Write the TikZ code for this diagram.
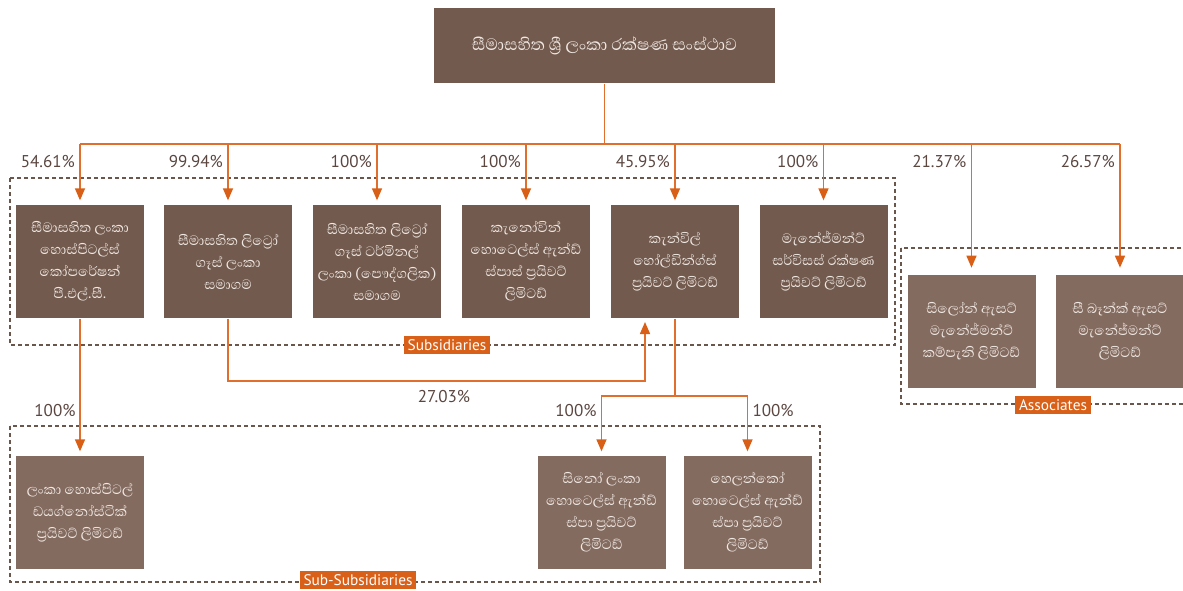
\documentclass[tikz,border=0pt]{standalone}
\usepackage{fontspec}
\setmainfont{PT Sans}
\newfontfamily\sinhalafont[Script=Sinhala]{Abhaya Libre}
\usetikzlibrary{arrows.meta}

\definecolor{boxdark}{RGB}{114,90,78}
\definecolor{boxlight}{RGB}{132,107,96}
\definecolor{boxtext}{RGB}{240,232,226}
\definecolor{linkorange}{RGB}{224,110,44}
\definecolor{tiporange}{RGB}{217,95,22}
\definecolor{tagorange}{RGB}{217,96,24}
\definecolor{framebrown}{RGB}{107,86,75}
\definecolor{pctbrown}{RGB}{91,70,64}

\tikzset{every picture/.style={line width=0.75pt}}
\tikzset{
  subbox/.style={fill=boxdark, text=boxtext, minimum width=96pt, minimum height=85pt, inner sep=0pt, align=center, font=\sinhalafont\fontsize{13}{16.5}\selectfont},
  lightbox/.style={subbox, fill=boxlight},
  link/.style={draw=linkorange, line width=1.1pt},
  linkarrow/.style={link, -{Triangle[length=9pt,width=7.5pt,color=tiporange]}, shorten >=3pt},
  groupframe/.style={draw=framebrown, dash pattern=on 3pt off 2.25pt, line width=0.9pt},
  grouptag/.style={fill=tagorange, text=white, font=\fontsize{11.5}{13}\selectfont, inner xsep=3pt, inner ysep=2.5pt},
  pct/.style={text=pctbrown, font=\fontsize{12.8}{15}\selectfont, inner sep=0pt}
}

\begin{document}
\begin{tikzpicture}[x=0.75pt,y=0.75pt,yscale=-1,xscale=1]
\useasboundingbox (0,0) rectangle (1183,590);

%Shape: Dashed frames
\draw[groupframe] (10,178) rectangle (895,345);
\draw[groupframe] (901,248) rectangle (1200,404);
\draw[groupframe] (10,426) rectangle (820,582);

%Shape: Rectangle (parent)
\node[subbox, minimum width=255.75pt, minimum height=56.25pt, font=\sinhalafont\fontsize{15.8}{18}\selectfont] (corp) at (604.5,45.5) {සීමාසහිත ශ්^^^^200dරී ලංකා රක්ෂණ සංස්ථාව};

%Shape: Rectangle (subsidiaries)
\node[subbox] (sub1) at (80,261.5) {සීමාසහිත ලංකා\\හොස්පිටල්ස්\\කෝපරේෂන්\\පී.එල්.සී.};
\node[subbox] (sub2) at (228,261.5) {සීමාසහිත ලිට්^^^^200dරෝ\\ගෑස් ලංකා\\සමාගම};
\node[subbox] (sub3) at (377,261.5) {සීමාසහිත ලිට්^^^^200dරෝ\\ගෑස් ටර්මිනල්\\ලංකා (පෞද්ගලික)\\සමාගම};
\node[subbox] (sub4) at (526,261.5) {කැනෝවින්\\හොටෙල්ස් ඇන්ඩ්\\ස්පාස් ප්^^^^200dරයිවට්\\ලිමිටඩ්};
\node[subbox] (sub5) at (675,261.5) {කැන්විල්\\හෝල්ඩින්ග්ස්\\ප්^^^^200dරයිවට් ලිමිටඩ්};
\node[subbox] (sub6) at (823.5,261.5) {මැනේජ්මන්ට්\\සර්විසස් රක්ෂණ\\ප්^^^^200dරයිවට් ලිමිටඩ්};

%Shape: Rectangle (associates)
\node[lightbox] (asc1) at (971.5,331.5) {සිලෝන් ඇසට්\\මැනේජ්මන්ට්\\කම්පැනි ලිමිටඩ්};
\node[lightbox] (asc2) at (1120,331.5) {සී බෑන්ක් ඇසට්\\මැනේජ්මන්ට්\\ලිමිටඩ්};

%Shape: Rectangle (sub-subsidiaries)
\node[lightbox] (ssub1) at (80,512.5) {ලංකා හොස්පිටල්\\ඩයග්නෝස්ටික්\\ප්^^^^200dරයිවට් ලිමිටඩ්};
\node[lightbox] (ssub2) at (601.5,512.5) {සිනෝ ලංකා\\හොටෙල්ස් ඇන්ඩ්\\ස්පා ප්^^^^200dරයිවට්\\ලිමිටඩ්};
\node[lightbox] (ssub3) at (747.5,512.5) {හෙලන්කෝ\\හොටෙල්ස් ඇන්ඩ්\\ස්පා ප්^^^^200dරයිවට්\\ලිමිටඩ්};

% Text Node (frame tags)
\node[grouptag] (subtag) at (447,345) {Subsidiaries};
\node[grouptag] (asctag) at (1053,405) {Associates};
\node[grouptag] (ssubtag) at (358,580) {Sub-Subsidiaries};

%Straight Lines
\coordinate (bus) at (604.5,144);
\coordinate (pctrow) at (0,162);
\draw[link] (corp.south) -- (bus);
\draw[link] (sub1.north |- bus) -- (asc2.north |- bus);
\foreach \n in {sub1,sub2,sub3,sub4,sub5,sub6}
  \draw[linkarrow] (\n.north |- bus) -- (\n.north);
\foreach \n in {asc1,asc2}
  \draw[linkarrow, shorten >=5pt] (\n.north |- bus) -- (\n.north);

\draw[linkarrow] (sub1.south) -- (ssub1.north);

\coordinate (crossrun) at (228,381);
\coordinate (sub5in) at (645,318);
\draw[linkarrow] (sub2.south) -- (crossrun) -| (sub5in);

\coordinate (split) at (675,396);
\draw[link] (sub5.south) -- (split);
\draw[linkarrow] (split) -| (ssub2.north);
\draw[linkarrow] (split) -| (ssub3.north);

% Text Node (shares)
\foreach \n/\p in {sub1/54.61,sub2/99.94,sub3/100,sub4/100,sub5/45.95,sub6/100,asc1/21.37,asc2/26.57}
  \node[pct, anchor=east] (p\n) at ([xshift=-3.5pt]\n.north |- pctrow) {\p\%};
\node[pct, anchor=east] (pssub1) at (76,411) {100\%};
\node[pct, anchor=east] (pssub2) at (597,411) {100\%};
\node[pct, anchor=west] (pssub3) at (752,411) {100\%};
\node[pct] (pcross) at (444,397) {27.03\%};

\end{tikzpicture}
\end{document}
